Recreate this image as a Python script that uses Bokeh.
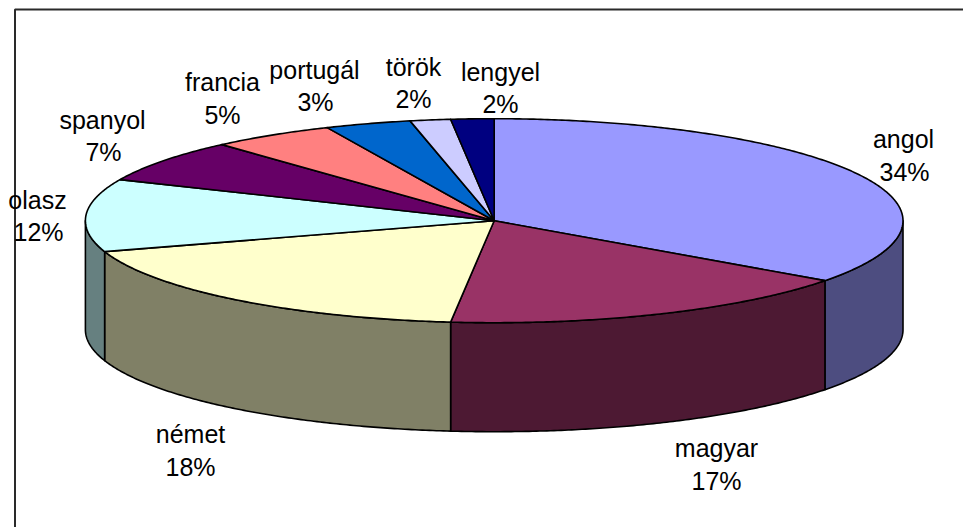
import numpy as np
from bokeh.core.properties import value
from bokeh.embed import file_html
from bokeh.models import ColumnDataSource, Range1d
from bokeh.plotting import figure
from bokeh.resources import INLINE

categories = ["angol", "magyar", "német", "olasz", "spanyol", "francia", "portugál", "török", "lengyel"]
shares = [35.0, 16.7, 18.4, 11.5, 6.8, 4.9, 3.4, 1.6, 1.7]
percent_labels = ["34%", "17%", "18%", "12%", "7%", "5%", "3%", "2%", "2%"]

# Styles
top_colors = ["#9999FF", "#993366", "#FFFFCC", "#CCFFFF", "#660066", "#FF8080", "#0066CC", "#CCCCFF", "#000080"]
side_colors = ["#4D4D80", "#4D1933", "#808066", "#668080", "#330033", "#804040", "#003366", "#666680", "#000040"]

# Layout (page pixels)
CX, CY, RX, RY, DEPTH = 493.7, 220.2, 408.8, 102.0, 109.0
FONT = "Liberation Sans"
FONT_SIZE = "25px"
TEXT_DY = -8.0
name_xy = [(903, 146), (716, 455), (190, 441), (37, 207), (102, 127), (222, 89), (314, 77), (413, 74), (500, 79)]
pct_xy = [(904, 179), (716, 488), (190, 474), (38, 239), (103, 159), (222, 122), (315, 109), (413, 106), (500, 111)]

p = figure(width=963, height=527, output_backend="svg", toolbar_location=None,
           x_range=Range1d(0, 963), y_range=Range1d(527, 0),
           x_axis_location=None, y_axis_location=None, min_border=0,
           outline_line_color=None, background_fill_color="white", border_fill_color="white")
p.grid.visible = False


def rim(a, b, drop=0.0):
    t = np.radians(np.linspace(a, b, max(int(abs(b - a) * 2), 2) + 1))
    return CX + RX * np.sin(t), CY - RY * np.cos(t) + drop


edges = np.concatenate([[0.0], np.cumsum(shares)]) / sum(shares) * 360.0

# Side wall: only the part of each slice on the front half of the rim
side_x, side_y, side_c = [], [], []
for i, col in enumerate(side_colors):
    a, b = max(edges[i], 90.0), min(edges[i + 1], 270.0)
    if b <= a:
        continue
    xt, yt = rim(a, b)
    xb, yb = rim(b, a, DEPTH)
    side_x.append(np.concatenate([xt, xb]).tolist())
    side_y.append(np.concatenate([yt, yb]).tolist())
    side_c.append(col)
p.patches("x", "y", fill_color="c", line_color="#000000", line_width=1.6, line_join="round",
          source=ColumnDataSource(dict(x=side_x, y=side_y, c=side_c)))

# Top face
top_x, top_y = [], []
for i in range(len(shares)):
    xt, yt = rim(edges[i], edges[i + 1])
    top_x.append([CX] + xt.tolist())
    top_y.append([CY] + yt.tolist())
p.patches("x", "y", fill_color="c", line_color="#000000", line_width=1.6, line_join="round",
          source=ColumnDataSource(dict(x=top_x, y=top_y, c=top_colors)))

# Chart-area frame (runs off the right and bottom of the picture)
p.line([14.5, 14.5, 963], [527, 9, 9], line_color="#2A2A2A", line_width=2)

# Labels
tx = [q[0] for q in name_xy] + [q[0] for q in pct_xy]
ty = [q[1] + TEXT_DY for q in name_xy] + [q[1] + TEXT_DY for q in pct_xy]
p.text(tx, ty, text=categories + percent_labels, text_font=value(FONT), text_font_size=FONT_SIZE,
       text_color="#000000", text_align="center", text_baseline="alphabetic")

open("out.html", "w").write(file_html(p, INLINE))
